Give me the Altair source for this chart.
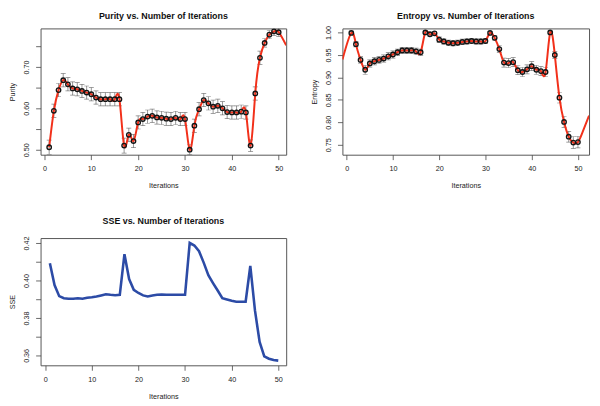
import altair as alt
import pandas as pd

iterations = list(range(1, 51))

purity = [0.506, 0.594, 0.644, 0.668, 0.658, 0.648, 0.646, 0.642, 0.638, 0.634,
          0.626, 0.622, 0.622, 0.622, 0.622, 0.622, 0.510, 0.536, 0.521, 0.566,
          0.574, 0.580, 0.582, 0.578, 0.577, 0.575, 0.574, 0.577, 0.574, 0.574,
          0.500, 0.558, 0.598, 0.620, 0.612, 0.604, 0.606, 0.600, 0.591, 0.590,
          0.590, 0.592, 0.590, 0.510, 0.636, 0.722, 0.758, 0.778, 0.786, 0.784]
purity_err = [0.017, 0.016, 0.016, 0.016, 0.016, 0.016, 0.016, 0.016, 0.016, 0.016,
              0.016, 0.016, 0.016, 0.016, 0.016, 0.016, 0.018, 0.016, 0.016, 0.016,
              0.016, 0.016, 0.016, 0.016, 0.016, 0.016, 0.016, 0.016, 0.016, 0.016,
              0.012, 0.016, 0.016, 0.016, 0.016, 0.016, 0.016, 0.016, 0.016, 0.016,
              0.016, 0.016, 0.016, 0.014, 0.016, 0.016, 0.010, 0.010, 0.010, 0.010]
purity_tail_x = [51.6]
purity_tail_y = [0.752]

entropy = [0.999, 0.974, 0.939, 0.917, 0.931, 0.936, 0.939, 0.942, 0.947, 0.951,
           0.956, 0.960, 0.960, 0.960, 0.958, 0.956, 1.000, 0.996, 0.998, 0.984,
           0.980, 0.977, 0.976, 0.977, 0.979, 0.980, 0.981, 0.980, 0.980, 0.981,
           0.999, 0.988, 0.963, 0.933, 0.932, 0.934, 0.916, 0.912, 0.918, 0.925,
           0.917, 0.914, 0.912, 1.000, 0.950, 0.855, 0.801, 0.768, 0.755, 0.756]
entropy_err = [0.004, 0.006, 0.008, 0.010, 0.008, 0.008, 0.008, 0.008, 0.008, 0.008,
               0.007, 0.007, 0.007, 0.007, 0.007, 0.007, 0.003, 0.004, 0.004, 0.006,
               0.006, 0.006, 0.006, 0.006, 0.006, 0.006, 0.006, 0.006, 0.006, 0.006,
               0.003, 0.005, 0.008, 0.010, 0.010, 0.010, 0.010, 0.010, 0.010, 0.010,
               0.010, 0.010, 0.010, 0.003, 0.008, 0.012, 0.012, 0.012, 0.013, 0.013]
entropy_head_x = [-0.9]
entropy_head_y = [0.940]
entropy_tail_x = [51.0, 52.4]
entropy_tail_y = [0.778, 0.815]

sse = [0.4091, 0.3975, 0.3916, 0.3905, 0.3902, 0.3902, 0.3905, 0.3902, 0.3907, 0.3910,
       0.3914, 0.3920, 0.3926, 0.3923, 0.3921, 0.3923, 0.4140, 0.4007, 0.3950, 0.3933,
       0.3920, 0.3914, 0.3920, 0.3923, 0.3925, 0.3923, 0.3923, 0.3923, 0.3923, 0.3923,
       0.4200, 0.4186, 0.4156, 0.4095, 0.4028, 0.3986, 0.3946, 0.3905, 0.3898, 0.3891,
       0.3886, 0.3886, 0.3886, 0.4077, 0.3840, 0.3672, 0.3595, 0.3582, 0.3575, 0.3572]

titles = ["Purity vs. Number of Iterations",
          "Entropy vs. Number of Iterations",
          "SSE vs. Number of Iterations"]

x_ticks = [0, 10, 20, 30, 40, 50]
purity_ticks = [0.50, 0.55, 0.60, 0.65, 0.70, 0.75]
entropy_ticks = [0.75, 0.80, 0.85, 0.90, 0.95, 1.00]
sse_ticks = [0.36, 0.37, 0.38, 0.39, 0.40, 0.41, 0.42]

RED = "#f2301a"
BLUE = "#2c4ba6"
BAR = "#505050"


def enc_x(field, xdom):
    return alt.X(field, type="quantitative",
                 scale=alt.Scale(domain=xdom, nice=False, zero=False),
                 axis=alt.Axis(values=x_ticks, format="d", title="Iterations"))


def enc_y(field, ydom, yticks, ytitle, label_expr):
    return alt.Y(field, type="quantitative",
                 scale=alt.Scale(domain=ydom, nice=False, zero=False),
                 axis=alt.Axis(values=yticks, labelExpr=label_expr, title=ytitle))


def title_layer(text, width, ypos):
    return alt.Chart(pd.DataFrame({"t": [text]})).mark_text(
        font="Liberation Sans", fontSize=9, fontWeight="bold", color="#111111",
        align="center", baseline="alphabetic",
    ).encode(text="t:N", x=alt.value(width / 2), y=alt.value(ypos))


def err_panel(vals, errs, head_x, head_y, tail_x, tail_y, xdom, ydom, yticks,
              ytitle, label_expr, title, width):
    pts = pd.DataFrame({
        "x": iterations,
        "y": vals,
        "lo": [v - e for v, e in zip(vals, errs)],
        "hi": [v + e for v, e in zip(vals, errs)],
    })
    line = pd.DataFrame({"x": head_x + iterations + tail_x,
                         "y": head_y + vals + tail_y})
    ex = enc_x("x", xdom)
    rules = alt.Chart(pts).mark_rule(color=BAR, strokeWidth=0.6, clip=True).encode(
        x=ex, y=enc_y("lo", ydom, yticks, ytitle, label_expr), y2="hi:Q")
    tlo = alt.Chart(pts).mark_tick(orient="horizontal", size=5, thickness=0.7,
                                   color=BAR, clip=True).encode(
        x=ex, y=enc_y("lo", ydom, yticks, ytitle, label_expr))
    thi = alt.Chart(pts).mark_tick(orient="horizontal", size=5, thickness=0.7,
                                   color=BAR, clip=True).encode(
        x=ex, y=enc_y("hi", ydom, yticks, ytitle, label_expr))
    ln = alt.Chart(line).mark_line(color=RED, strokeWidth=2, interpolate="natural",
                                   clip=True).encode(
        x=ex, y=enc_y("y", ydom, yticks, ytitle, label_expr))
    pt = alt.Chart(pts).mark_point(shape="circle", filled=False, color="#151515",
                                   size=20, strokeWidth=1.4, opacity=1, clip=True).encode(
        x=ex, y=enc_y("y", ydom, yticks, ytitle, label_expr))
    return alt.layer(rules, tlo, thi, ln, pt, title_layer(title, width, -10)).properties(
        width=width, height=128)


p_purity = err_panel(purity, purity_err, [], [], purity_tail_x, purity_tail_y,
                     [-0.84, 51.6], [0.488, 0.793], purity_ticks, "Purity",
                     "round(datum.value*100) % 10 == 0 ? format(datum.value, '.2f') : ''",
                     titles[0], 249)

p_entropy = err_panel(entropy, entropy_err, entropy_head_x, entropy_head_y,
                      entropy_tail_x, entropy_tail_y,
                      [-0.92, 52.4], [0.728, 1.009], entropy_ticks, "Entropy",
                      "format(datum.value, '.2f')",
                      titles[1], 250)

sse_df = pd.DataFrame({"x": iterations, "y": sse})
sse_line = alt.Chart(sse_df).mark_line(color=BLUE, strokeWidth=2.6, clip=True).encode(
    x=enc_x("x", [-1.0, 51.7]),
    y=enc_y("y", [0.3547, 0.4226], sse_ticks, "SSE",
            "round(datum.value*100) % 2 == 0 ? format(datum.value, '.2f') : ''"),
)
p_sse = alt.layer(sse_line, title_layer(titles[2], 249, -14.7)).properties(
    width=249, height=129)

chart = alt.concat(
    p_purity, p_entropy, p_sse, columns=2,
    spacing={"row": 84.5, "column": 57}, bounds="flush",
).properties(
    padding={"left": 0, "top": 0, "right": 2, "bottom": 0},
).configure_view(
    stroke="#555555", strokeWidth=1,
).configure_axis(
    grid=False, domain=False, tickColor="#444444", tickSize=5, tickWidth=0.8,
    labelFont="Liberation Sans", labelFontSize=7.3, labelColor="#222222",
    titleFont="Liberation Sans", titleFontSize=7.3, titleFontWeight="normal",
    titleColor="#222222",
).configure_axisX(
    labelPadding=5.2, titlePadding=10.2,
).configure_axisY(
    labelAngle=270, labelAlign="center", labelBaseline="bottom",
    labelPadding=5.5, titlePadding=5.7,
)

chart.save("out.html", embed_options={"renderer": "svg", "actions": False})
